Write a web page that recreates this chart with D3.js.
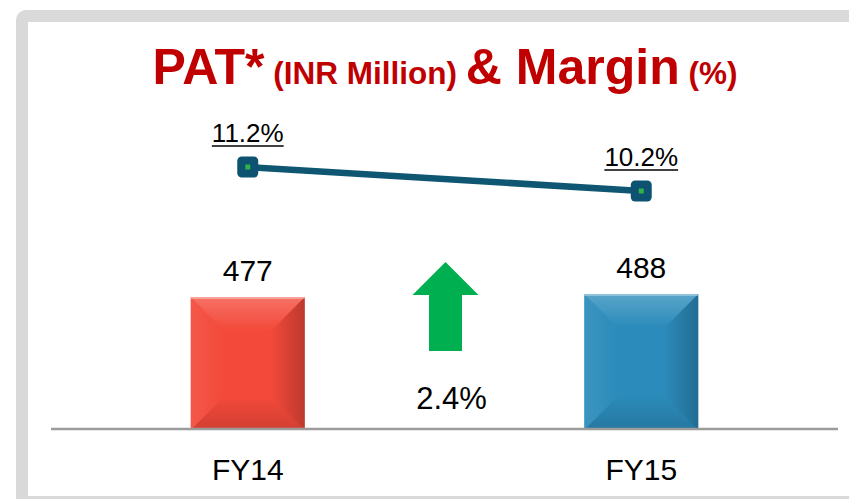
<!DOCTYPE html>
<html>
<head>
<meta charset="utf-8">
<title>PAT & Margin</title>
<style>
  body { margin: 0; background: #fff; }
  svg { display: block; }
  text { font-family: "Liberation Sans", Arial, sans-serif; }
</style>
</head>
<body>
<div id="chart"></div>
<script src="https://d3js.org/d3.v7.min.js"></script>
<script>
// data
var years   = ["FY14", "FY15"];
var pat     = [477, 488];          // INR Million
var margin  = [11.2, 10.2];        // %
var growthLabel = "2.4%";
var barColors = ["#f3493a", "#2b8bba"];

var width = 849, height = 499;

var svg = d3.select("#chart").append("svg")
    .attr("width", width)
    .attr("height", height);

var defs = svg.append("defs");

// grey slide frame
svg.append("rect")
    .attr("x", 22).attr("y", 16)
    .attr("width", 900).attr("height", 486)
    .attr("rx", 4)
    .attr("fill", "#fff")
    .attr("stroke", "#d9d9d9")
    .attr("stroke-width", 12);

// title
var title = svg.append("text")
    .attr("x", 445).attr("y", 84)
    .attr("text-anchor", "middle")
    .attr("fill", "#c00000")
    .attr("font-weight", "bold");
title.append("tspan").attr("font-size", 50).text("PAT*");
title.append("tspan").attr("font-size", 31.5).text(" (INR Million) ");
title.append("tspan").attr("font-size", 50).text("& Margin");
title.append("tspan").attr("font-size", 31.5).text(" (%)");

// scales
var x = d3.scaleBand()
    .domain(years)
    .range([51, 838])
    .paddingInner(0.71)
    .paddingOuter(0.355);

var y = d3.scaleLinear().domain([0, 1000]).range([429, 152.3]);
var y2 = d3.scaleLinear().domain([10.2, 11.2]).range([191, 167]);

// bevel gradients
function grad(id, x1, y1, x2, y2, col, op) {
  var g = defs.append("linearGradient").attr("id", id)
      .attr("x1", x1).attr("y1", y1).attr("x2", x2).attr("y2", y2);
  g.append("stop").attr("offset", 0).attr("stop-color", col).attr("stop-opacity", op);
  g.append("stop").attr("offset", 1).attr("stop-color", col).attr("stop-opacity", 0);
}
grad("bvTop", 0, 0, 0, 1, "#fff", 0.22);
grad("bvLeft", 0, 0, 1, 0, "#fff", 0.08);
grad("bvRight", 1, 0, 0, 0, "#000", 0.22);
grad("bvBottom", 0, 1, 0, 0, "#000", 0.14);

var data = years.map(function(d, i) {
  return { year: d, pat: pat[i], margin: margin[i], color: barColors[i] };
});

var bw = x.bandwidth();
var bev = 34;

var bars = svg.selectAll(".bar")
    .data(data)
    .enter().append("g")
    .attr("class", "bar")
    .attr("transform", function(d) { return "translate(" + x(d.year) + "," + y(d.pat) + ")"; });

bars.append("rect")
    .attr("width", bw)
    .attr("height", function(d) { return y(0) - y(d.pat) + 1; })
    .attr("fill", function(d) { return d.color; });

bars.each(function(d) {
  var g = d3.select(this);
  var h = y(0) - y(d.pat) + 1;
  var b = Math.min(bev, h / 2);
  g.append("path").attr("fill", "url(#bvTop)")
      .attr("d", "M0,0 L" + bw + ",0 L" + (bw - b) + "," + b + " L" + b + "," + b + "Z");
  g.append("path").attr("fill", "url(#bvLeft)")
      .attr("d", "M0,0 L" + b + "," + b + " L" + b + "," + (h - b) + " L0," + h + "Z");
  g.append("path").attr("fill", "url(#bvRight)")
      .attr("d", "M" + bw + ",0 L" + bw + "," + h + " L" + (bw - b) + "," + (h - b) + " L" + (bw - b) + "," + b + "Z");
  g.append("path").attr("fill", "url(#bvBottom)")
      .attr("d", "M0," + h + " L" + b + "," + (h - b) + " L" + (bw - b) + "," + (h - b) + " L" + bw + "," + h + "Z");
  // bright top edge
  g.append("rect").attr("width", bw).attr("height", 2)
      .attr("fill", "#fff").attr("opacity", 0.35);
});

// bar value labels
svg.selectAll(".patLabel")
    .data(data)
    .enter().append("text")
    .attr("x", function(d) { return x(d.year) + bw / 2; })
    .attr("y", function(d) { return y(d.pat) - 16; })
    .attr("text-anchor", "middle")
    .attr("font-size", 30)
    .attr("fill", "#000")
    .text(function(d) { return d.pat; });

// baseline
svg.append("line")
    .attr("x1", 51).attr("x2", 838)
    .attr("y1", y(0)).attr("y2", y(0))
    .attr("stroke", "#9c9c9c")
    .attr("stroke-width", 2.5);

// category labels
svg.selectAll(".cat")
    .data(years)
    .enter().append("text")
    .attr("x", function(d) { return x(d) + bw / 2; })
    .attr("y", 480)
    .attr("text-anchor", "middle")
    .attr("font-size", 30)
    .attr("fill", "#000")
    .text(function(d) { return d; });

// margin line
var line = d3.line()
    .x(function(d) { return x(d.year) + bw / 2; })
    .y(function(d) { return y2(d.margin); });

svg.append("path")
    .datum(data)
    .attr("d", line)
    .attr("fill", "none")
    .attr("stroke", "#0f5673")
    .attr("stroke-width", 6.5);

var mk = svg.selectAll(".mk")
    .data(data)
    .enter().append("g")
    .attr("transform", function(d) { return "translate(" + (x(d.year) + bw / 2) + "," + y2(d.margin) + ")"; });
mk.append("rect")
    .attr("x", -10.5).attr("y", -10.5).attr("width", 21).attr("height", 21)
    .attr("rx", 4.5)
    .attr("fill", "#0d5270");
mk.append("rect")
    .attr("x", -2.5).attr("y", -2.5).attr("width", 5).attr("height", 5)
    .attr("fill", "#2db34a");

// margin labels, underlined
mk.each(function(d) {
  var g = d3.select(this);
  var t = g.append("text")
      .attr("x", 0).attr("y", -25)
      .attr("text-anchor", "middle")
      .attr("font-size", 26)
      .attr("fill", "#000")
      .text(d.margin.toFixed(1) + "%");
  var w = t.node().getComputedTextLength();
  g.append("line")
      .attr("x1", -w / 2).attr("x2", w / 2)
      .attr("y1", -21).attr("y2", -21)
      .attr("stroke", "#000").attr("stroke-width", 1.5);
});

// growth arrow between the two years
var ax = (x(years[0]) + x(years[1]) + bw) / 2 + 1;
var arrow = svg.append("g").attr("transform", "translate(" + ax + ",0)");
arrow.append("path")
    .attr("d", "M0,262 L33,295 L16.5,295 L16.5,351 L-16.5,351 L-16.5,295 L-33,295 Z")
    .attr("fill", "#00b050");
arrow.append("text")
    .attr("x", 6).attr("y", 409)
    .attr("text-anchor", "middle")
    .attr("font-size", 31)
    .attr("fill", "#000")
    .text(growthLabel);
</script>
</body>
</html>
